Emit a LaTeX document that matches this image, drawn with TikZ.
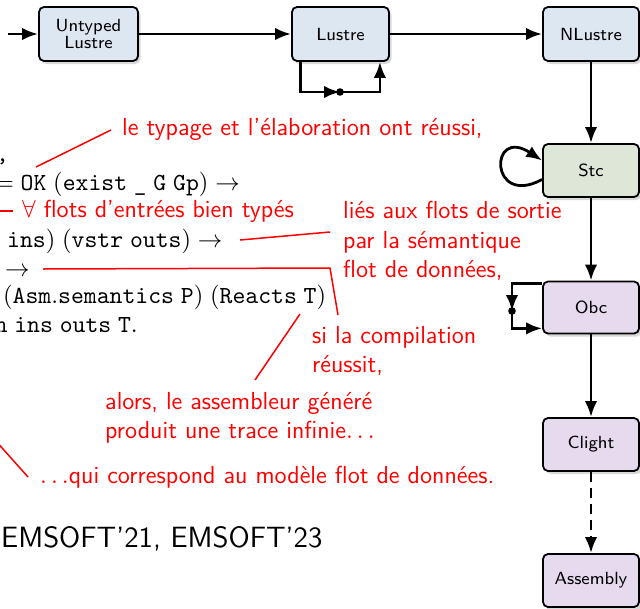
\documentclass[tikz,border=0pt]{standalone}
\usetikzlibrary{arrows.meta,shadows,calc}
\definecolor{bluefill}{HTML}{DDE7F2}
\definecolor{greenfill}{HTML}{DEE6D7}
\definecolor{purplefill}{HTML}{E6DAEE}
\newcommand{\bigtxt}[2][11]{\scalebox{2.24}{\fontsize{#1}{13.6}\selectfont #2}}
\newcommand{\boxtxt}[1]{\scalebox{2.2}{\fontsize{8}{7.8}\selectfont\vbox{\baselineskip=7.8pt\lineskiplimit=-20pt\halign{\hfil##\hfil\cr#1\crcr}}}}
\tikzset{
  stage/.style={draw=black, line width=1.8pt, rounded corners=5pt, minimum width=97pt,
    minimum height=54pt, inner sep=0pt, align=center, font=\sffamily,
    drop shadow={shadow xshift=2.5pt, shadow yshift=-3pt, opacity=0.3}},
  conn/.style={line width=2.8pt, -{Latex[length=16pt,width=12.5pt]}},
  note/.style={text=red, font=\sffamily, anchor=base west, inner sep=0pt},
  noteline/.style={draw=red, line width=1.5pt},
  code/.style={font=\normalfont, anchor=base west, inner sep=0pt},
  codeR/.style={code, anchor=base east}
}
\begin{document}
\begin{tikzpicture}[x=1pt,y=-1pt]
\useasboundingbox (0,0) rectangle (640,608);
\clip (0,0) rectangle (640,608);

% stages
\node[stage, fill=bluefill, minimum width=99pt] (UL) at (88.5,34) {\boxtxt{Untyped\cr Lustre}};
\node[stage, fill=bluefill] (L) at (340.5,34) {\boxtxt{Lustre}};
\node[stage, fill=bluefill, minimum width=96pt] (NL) at (591,34) {\boxtxt{NLustre}};
\node[stage, fill=greenfill, minimum width=96pt, minimum height=53pt] (Stc) at (591,170.5) {\boxtxt{Stc}};
\node[stage, fill=purplefill, minimum width=96pt, minimum height=52pt] (Obc) at (591,307.5) {\boxtxt{Obc}};
\node[stage, fill=purplefill, minimum width=96pt, minimum height=53pt] (Cl) at (591,444.5) {\boxtxt{Clight}};
\node[stage, fill=purplefill, minimum width=96pt, minimum height=53pt] (Asm) at (591,580.5) {\boxtxt{Assembly}};

% main connectors
\coordinate (start) at (8,34);
\draw[conn] (start) -- (UL);
\draw[conn] (UL) -- (L);
\draw[conn] (L) -- (NL);
\draw[conn] (NL) -- (Stc);
\draw[conn] (Stc) -- (Obc);
\draw[conn] (Obc) -- (Cl);
\draw[conn, dash pattern=on 10pt off 6pt] (Cl) -- (Asm);

% Lustre loop
\coordinate (ldot) at (340,92);
\draw[conn] ([xshift=9pt]L.south west) |- (ldot);
\draw[conn] (ldot) -| ([xshift=-10pt]L.south east);
\fill (ldot) circle (3.8pt);

% Stc loop
\draw[conn] ([yshift=-9pt]Stc.west) .. controls (489,208) and (489,126) .. ([yshift=10pt]Stc.west);

% Obc loop
\coordinate (odot) at (512,311);
\draw[conn] ([yshift=-2.5pt]Obc.north west) -| (odot);
\draw[conn] (odot) |- ([yshift=6pt]Obc.south west);
\fill (odot) circle (3.8pt);

% code
\node[codeR] (c1) at (9,161) {\bigtxt{\ttfamily s,}};
\node[codeR] (c2) at (240,190) {\bigtxt{$= \mathtt{OK}\;(\mathtt{exist}\;\mbox{\ttfamily\_}\;\mathtt{G}\;\mathtt{Gp}) \rightarrow$}};
\node[code] (c3) at (7,247) {\bigtxt{$\mathtt{ins})\;(\mathtt{vstr}\;\mathtt{outs}) \rightarrow$}};
\node[code] (c4) at (5,276) {\bigtxt{$\rightarrow$}};
\node[code] (c5) at (3,303) {\bigtxt{$(\mathtt{Asm.semantics}\;\mathtt{P})\;(\mathtt{Reacts}\;\mathtt{T})$}};
\node[codeR] (c6) at (138,332) {\bigtxt{$\mathtt{n}\;\mathtt{ins}\;\mathtt{outs}\;\mathtt{T}.$}};

% red notes
\node[note] (n1) at (122,135) {\bigtxt{le typage et l'élaboration ont réussi,}};
\node[note] (n2) at (22,217) {\bigtxt{$\forall$ flots d'entrées bien typés}};
\node[note] (n3a) at (343,218) {\bigtxt{liés aux flots de sortie}};
\node[note] (n3b) at (343,248) {\bigtxt{par la sémantique}};
\node[note] (n3c) at (343,277) {\bigtxt{flot de données,}};
\node[note] (n4a) at (312,343) {\bigtxt{si la compilation}};
\node[note] (n4b) at (312,372) {\bigtxt{réussit,}};
\node[note] (n5a) at (105,409) {\bigtxt{alors, le assembleur généré}};
\node[note] (n5b) at (105,438) {\bigtxt{produit une trace infinie$\ldots$}};
\node[note] (n6) at (40,483) {\bigtxt{$\ldots$qui correspond au modèle flot de données.}};

\node[anchor=base west, inner sep=0pt, font=\sffamily] (ems) at (1,547) {\bigtxt[13.1]{EMSOFT'21, EMSOFT'23}};

% red connectors
\coordinate (e1) at (36,167);
\draw[noteline] ($(n1.base west)+(-11,-5)$) -- (e1);
\coordinate (e2) at (-20,211);
\draw[noteline] (e2) -- ($(n2.base west)+(-9,-6)$);
\coordinate (e3) at (240,240);
\draw[noteline] (e3) -- ($(n3b.base west)+(-13,-16)$);
\coordinate (e4) at (43,269);
\draw[noteline] (e4) -- (330,268) -- ($(n4a.base west)+(26,-28)$);
\coordinate (e5) at (300,314);
\draw[noteline] (e5) -- ($(n5a.base west)+(150,-29)$);
\coordinate (e6) at (-5,440);
\draw[noteline] (e6) -- ($(n6.base west)+(-12,-6)$);
\end{tikzpicture}
\end{document}
